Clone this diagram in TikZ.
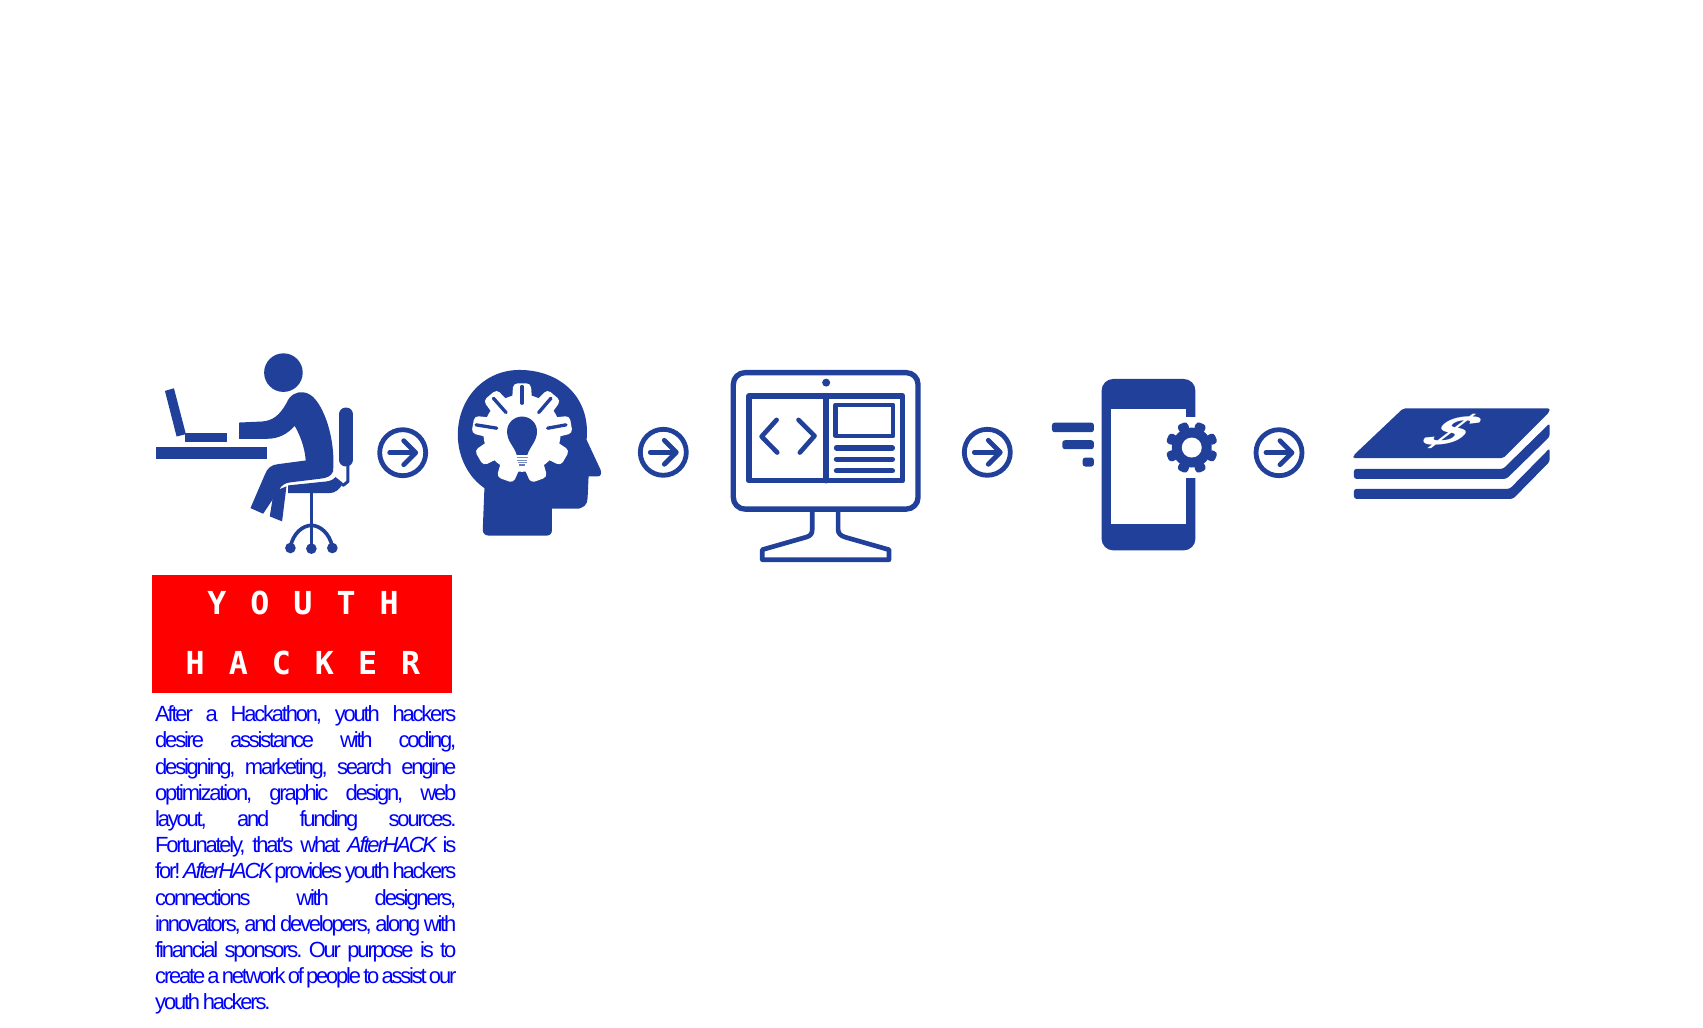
\documentclass[tikz,border=0pt]{standalone}
\usepackage{fontspec}
\setmainfont{Liberation Sans}
\newfontfamily\bodyface[LetterSpace=-10]{Liberation Sans}
\newfontfamily\logoface[LetterSpace=76]{DejaVu Sans Mono}
\definecolor{iconblue}{RGB}{33,64,154}
\definecolor{logored}{RGB}{255,0,0}
\definecolor{textblue}{RGB}{0,0,255}
\tikzset{
  zc/.style 2 args={shift={(#1,#2)},x=0.003333cm,y=-0.003333cm},
  ic/.style={fill=iconblue,draw=none},
  st/.style={draw=iconblue,line width=#1*0.0948pt,line cap=round,line join=round},
  circarrow/.style={draw=iconblue,line width=4.8*0.2845pt,line cap=round,line join=round},
  logotext/.style={text=white,inner sep=0pt,font=\logoface\bfseries\fontsize{9}{10}\selectfont},
}
\newcommand{\jl}[1]{\leavevmode\hbox to 3.01cm{\spaceskip=0.12em plus 1fil minus 0.1em\relax #1}}
\newcommand{\circarrowicon}[2]{%
  \begin{scope}[shift={(#1,#2)}]
    \draw[circarrow] (0,0) circle[radius=23];
    \draw[circarrow] (-13,0) -- (12,0);
    \draw[circarrow] (1,-12) -- (13,0) -- (1,12);
  \end{scope}}
\begin{document}
\begin{tikzpicture}[x=0.01cm,y=-0.01cm]
\useasboundingbox (0,0) rectangle (1703,1027);
\fill[white] (0,0) rectangle (1703,1027);

% person
\begin{scope}[zc={130}{340}]
  \fill[iconblue] (461,98) circle[radius=58];
  \fill[ic] (105,153) -- (132,145) -- (168,283) -- (140,290) -- cycle;
  \fill[ic] (165,278) rectangle (290,306);
  \fill[ic] (78,320) rectangle (413,357);
  % torso, arm and near thigh
  \fill[ic] (328,248) -- (395,245) .. controls (430,243) and (450,225) .. (470,190)
     .. controls (480,165) and (500,155) .. (520,157)
     .. controls (550,160) and (570,190) .. (588,235)
     .. controls (605,280) and (615,340) .. (610,395)
     .. controls (605,410) and (590,415) .. (570,417)
     -- (480,428) .. controls (465,430) and (455,437) .. (448,450)
     -- (400,522) -- (362,505) -- (405,405)
     .. controls (412,385) and (425,375) .. (445,373)
     -- (528,362) .. controls (525,320) and (510,285) .. (495,258)
     .. controls (475,280) and (450,297) .. (410,297)
     -- (328,297) -- cycle;
  % far shin
  \fill[ic] (432,455) -- (470,440) -- (457,545) -- (420,530) -- cycle;
  % chair
  \fill[ic] (475,437) -- (590,425) .. controls (605,423) and (612,418) .. (618,412)
     -- (640,430) .. controls (630,450) and (615,460) .. (600,460) -- (475,460) -- cycle;
  \fill[ic,rounded corners=20*0.0948pt] (628,203) rectangle (670,380);
  \draw[st=9] (655,375) -- (655,425) -- (640,437);
  \draw[st=11] (545,460) -- (545,625);
  \draw[st=11] (482,622) .. controls (490,580) and (520,557) .. (545,557)
     .. controls (570,557) and (600,580) .. (608,622);
  \fill[iconblue] (482,625) circle[radius=16];
  \fill[iconblue] (545,627) circle[radius=16];
  \fill[iconblue] (608,625) circle[radius=16];
  % head with gear
  \fill[ic] (1065,445) -- (1060,570) .. controls (1060,582) and (1068,588) .. (1080,588)
     -- (1250,588) .. controls (1262,588) and (1268,582) .. (1268,570)
     -- (1268,507) -- (1340,507) .. controls (1362,507) and (1375,495) .. (1375,475)
     -- (1378,410) -- (1405,410) .. controls (1415,410) and (1418,400) .. (1414,390)
     -- (1372,300) .. controls (1385,170) and (1290,90) .. (1170,90)
     .. controls (1065,90) and (985,175) .. (985,285)
     .. controls (985,355) and (1020,415) .. (1065,445) -- cycle;
  \fill[white] (1178,280) circle[radius=116];
  \foreach \a in {-90,-50,-10,30,70,110,150,190,230}
    \fill[white,shift={(1178,280)},rounded corners=1.2pt] (\a-17:103) -- (\a-10:152) -- (\a+10:152) -- (\a+17:103) -- cycle;
  \draw[st=10] (1178,140) -- (1178,190);
  \draw[st=10] (1265,175) -- (1228,218);
  \draw[st=10] (1092,175) -- (1130,218);
  \draw[st=10] (1310,255) -- (1255,265);
  \draw[st=10] (1040,255) -- (1102,265);
  \fill[ic] (1162,345) .. controls (1155,320) and (1133,305) .. (1133,275)
     .. controls (1133,248) and (1155,230) .. (1178,230)
     .. controls (1201,230) and (1223,248) .. (1223,275)
     .. controls (1223,305) and (1201,320) .. (1194,345) -- cycle;
  \draw[iconblue!60,line width=3*0.0948pt] (1162,353) -- (1196,353) (1164,361) -- (1194,361) (1166,369) -- (1192,369);
  \fill[iconblue!70] (1170,374) rectangle (1188,380);
\end{scope}

% monitor
\begin{scope}[zc={720}{360}]
  \draw[st=16,rounded corners=35*0.0948pt] (40,38) rectangle (595,448);
  \fill[iconblue] (319,68) circle[radius=12];
  \draw[st=16] (87,108) rectangle (549,363);
  \draw[st=16] (318,108) -- (318,363);
  \draw[st=14] (348,135) rectangle (520,228);
  \draw[st=16] (350,264) -- (518,264);
  \draw[st=16] (350,298) -- (518,298);
  \draw[st=16] (350,333) -- (518,333);
  \draw[st=14] (170,180) -- (125,230) -- (172,278);
  \draw[st=14] (236,180) -- (284,228) -- (240,278);
  \draw[st=14] (277,455) -- (277,510) .. controls (277,522) and (272,528) .. (260,532)
     -- (127,570) -- (127,600) -- (508,600) -- (508,570) -- (375,532)
     .. controls (362,528) and (355,520) .. (355,510) -- (355,455);
\end{scope}

% phone
\begin{scope}[zc={1040}{370}]
  \fill[ic,rounded corners=35*0.0948pt] (185,27) rectangle (467,542);
  \fill[white] (212,117) rectangle (440,462);
  \fill[white] (435,140) rectangle (475,325);
  \fill[iconblue] (456,233) circle[radius=60];
  \foreach \a in {22.5,67.5,...,337.5}
    \fill[iconblue,shift={(456,233)},rounded corners=1pt] (\a-17:52) -- (\a-12:80) -- (\a+12:80) -- (\a+17:52) -- cycle;
  \fill[white] (456,233) circle[radius=30];
  \fill[ic,rounded corners=8*0.0948pt] (36,158) rectangle (162,187);
  \fill[ic,rounded corners=8*0.0948pt] (67,211) rectangle (162,238);
  \fill[ic,rounded corners=8*0.0948pt] (128,263) rectangle (162,290);
\end{scope}

% money
\begin{scope}[zc={1340}{395}]
  \fill[ic,rounded corners=0.6pt] (190,40) -- (630,40) -- (630,50) -- (490,190) -- (40,190) -- (40,182) -- cycle;
  \fill[ic,rounded corners=0.7pt] (42,222) -- (490,222) -- (630,85) -- (630,125) -- (500,252) -- (42,252) -- cycle;
  \fill[ic,rounded corners=0.7pt] (42,282) -- (510,282) -- (630,160) -- (630,200) -- (520,312) -- (42,312) -- cycle;
\end{scope}
\node[name=dollar,text=white,inner sep=0pt,cm={1.3,0,0.8,0.8,(1451.7,431.7)},font=\bfseries\itshape\fontsize{15}{15}\selectfont] {\$};

% round arrows
\circarrowicon{402.7}{452.7}
\circarrowicon{663.3}{452.3}
\circarrowicon{987.3}{452.3}
\circarrowicon{1279}{452.7}

% logo
\fill[logored] (152,575) rectangle (452,693);
\node[logotext,name=youth] at (303,603) {YOUTH};
\node[logotext,name=hacker] at (303,663) {HACKER};

% text
\node[name=body,anchor=north west,inner sep=0pt,text width=3.01cm,align=left,text=textblue,
  font=\bodyface\frenchspacing\fontsize{6.25}{7.45}\selectfont] at (154.5,705) {%
\jl{After a Hackathon, youth hackers}\\
\jl{desire assistance with coding,}\\
\jl{designing, marketing, search engine}\\
\jl{optimization, graphic design, web}\\
\jl{layout, and funding sources.}\\
\jl{Fortunately, that's what \textit{AfterHACK} is}\\
\jl{for! \textit{AfterHACK} provides youth hackers}\\
\jl{connections with designers,}\\
\jl{innovators, and developers, along with}\\
\jl{financial sponsors. Our purpose is to}\\
\jl{create a network of people to assist our}\\
{\spaceskip=0.12em\relax youth hackers.}};
\end{tikzpicture}
\end{document}
